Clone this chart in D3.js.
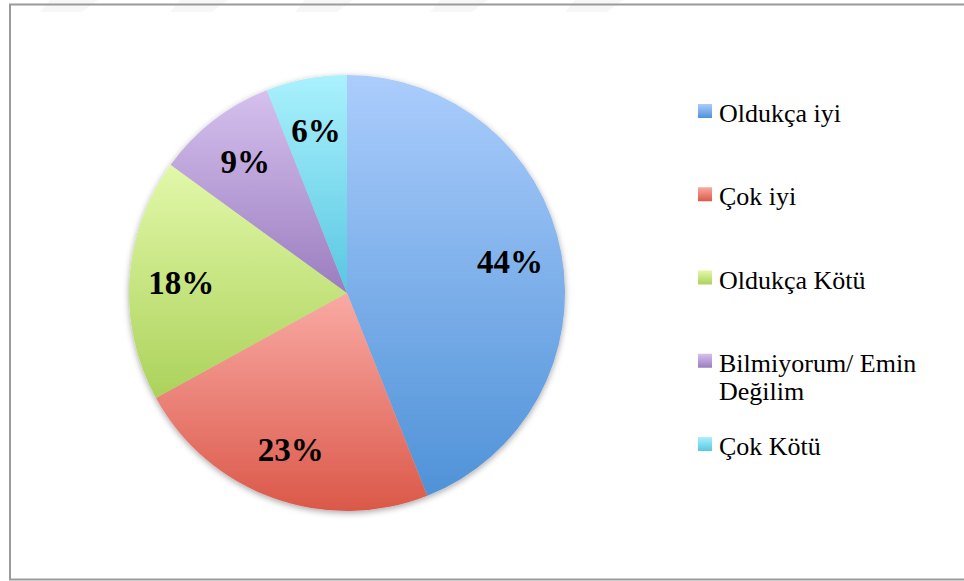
<!DOCTYPE html>
<html>
<head>
<meta charset="utf-8">
<script src="https://cdn.jsdelivr.net/npm/d3@7"></script>
<style>
  body { margin: 0; background: #ffffff; }
  #chart svg { display: block; }
</style>
</head>
<body>
<div id="chart"></div>
<script>
// values
var categories = ["Oldukça iyi", "Çok iyi", "Oldukça Kötü", "Bilmiyorum/ Emin Değilim", "Çok Kötü"];
var legendLines = [["Oldukça iyi"], ["Çok iyi"], ["Oldukça Kötü"], ["Bilmiyorum/ Emin", "Değilim"], ["Çok Kötü"]];
var percents = [44, 23, 18, 9, 6];
var colorsTop = ["#abcdfc", "#f9aaa4", "#e2f8a9", "#d5c0ee", "#aaf1fd"];
var colorsBottom = ["#4f92d8", "#db5849", "#acd25b", "#9b7dbf", "#58c7e1"];

(function () {
    var width = 964, height = 581;
    var cx = 347, cy = 293, radius = 218;

    var svg = d3.select("#chart").append("svg")
        .attr("width", width)
        .attr("height", height);

    var defs = svg.append("defs");

    // one vertical gradient per slice
    categories.forEach(function (c, i) {
        var g = defs.append("linearGradient")
            .attr("id", "grad" + i)
            .attr("x1", 0).attr("y1", 0).attr("x2", 0).attr("y2", 1);
        g.append("stop").attr("offset", "0%").attr("stop-color", colorsTop[i]);
        g.append("stop").attr("offset", "100%").attr("stop-color", colorsBottom[i]);
    });

    var shadow = defs.append("filter").attr("id", "shadow")
        .attr("x", "-10%").attr("y", "-10%").attr("width", "120%").attr("height", "120%");
    shadow.append("feDropShadow")
        .attr("dx", 0).attr("dy", 2).attr("stdDeviation", 3)
        .attr("flood-color", "#000").attr("flood-opacity", 0.35);

    // faint watermark stripes at the top
    var stripeX = [70, 200, 325, 460, 595];
    svg.selectAll(".stripe")
        .data(stripeX)
        .enter().append("path")
        .attr("class", "stripe")
        .attr("d", function (x) {
            return "M" + (x - 20) + ",0 L" + (x + 28) + ",0 L" + (x + 12) + ",12 L" + (x - 30) + ",12 Z";
        })
        .attr("fill", "#000")
        .attr("fill-opacity", 0.03);

    // chart area border
    svg.append("rect")
        .attr("x", 10)
        .attr("y", 4.5)
        .attr("width", 970)
        .attr("height", 575)
        .attr("fill", "none")
        .attr("stroke", "#9a9a9a")
        .attr("stroke-width", 2);

    var pie = d3.pie().sort(null).value(function (d) { return d; });
    var arcs = pie(percents);

    var arc = d3.arc().innerRadius(0).outerRadius(radius);
    var labelArc = d3.arc().innerRadius(166).outerRadius(166);

    var g = svg.append("g")
        .attr("transform", "translate(" + cx + "," + cy + ")");

    g.append("g")
        .attr("filter", "url(#shadow)")
        .selectAll("path")
        .data(arcs)
        .enter().append("path")
        .attr("d", arc)
        .attr("fill", function (d, i) { return "url(#grad" + i + ")"; });

    g.selectAll(".label")
        .data(arcs)
        .enter().append("text")
        .attr("class", "label")
        .attr("transform", function (d) {
            var c = labelArc.centroid(d);
            return "translate(" + c[0] + "," + c[1] + ")";
        })
        .attr("dy", "0.35em")
        .attr("text-anchor", "middle")
        .style("font-family", "'Liberation Serif', serif")
        .style("font-weight", "bold")
        .style("font-size", "33px")
        .style("fill", "#000")
        .text(function (d) { return d.data + "%"; });

    // legend
    var legendY = d3.scalePoint()
        .domain(categories)
        .range([111, 444]);

    var legend = svg.append("g").attr("class", "legend");
    var item = legend.selectAll(".item")
        .data(categories)
        .enter().append("g")
        .attr("class", "item")
        .attr("transform", function (d) { return "translate(698," + legendY(d) + ")"; });

    item.append("rect")
        .attr("x", 0)
        .attr("y", -7)
        .attr("width", 14)
        .attr("height", 14)
        .attr("fill", function (d, i) { return "url(#grad" + i + ")"; });

    item.append("text")
        .attr("x", 21)
        .attr("y", 11)
        .style("font-family", "'Liberation Serif', serif")
        .style("font-size", "26px")
        .style("fill", "#000")
        .selectAll("tspan")
        .data(function (d, i) { return legendLines[i]; })
        .enter().append("tspan")
        .attr("x", 21)
        .attr("dy", function (d, j) { return j === 0 ? 0 : 28; })
        .text(function (d) { return d; });
})();
</script>
</body>
</html>
